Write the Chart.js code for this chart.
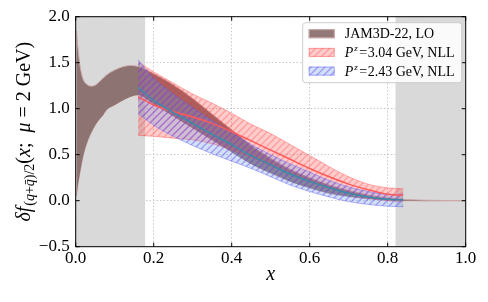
<!DOCTYPE html>
<html>
<head>
<meta charset="utf-8">
<script src="https://cdn.jsdelivr.net/npm/chart.js@4.4.1/dist/chart.umd.min.js"></script>
<style>
  html, body { margin: 0; padding: 0; background: #fff; }
  #wrap { width: 488px; height: 302px; }
</style>
</head>
<body>
<div id="wrap"><canvas id="chart"></canvas></div>
<script>
// JAM3D-22 LO band
const jamX  = [0.002, 0.005, 0.01, 0.015, 0.02, 0.03, 0.04, 0.05, 0.06, 0.07, 0.08, 0.1, 0.12, 0.14, 0.16,
               0.2, 0.25, 0.3, 0.35, 0.4, 0.45, 0.5, 0.55, 0.6, 0.65, 0.7, 0.75, 0.8, 0.85, 0.9, 0.95, 1.0];
const jamHi = [1.85, 1.70, 1.50, 1.38, 1.31, 1.26, 1.245, 1.255, 1.29, 1.33, 1.37, 1.42, 1.455, 1.47, 1.46,
               1.38, 1.26, 1.11, 0.94, 0.77, 0.60, 0.46, 0.34, 0.25, 0.17, 0.11, 0.06, 0.03, 0.012, 0.005, 0.002, 0];
const jamLo = [0.05, 0.15, 0.28, 0.40, 0.50, 0.64, 0.74, 0.82, 0.88, 0.93, 0.99, 1.04, 1.09, 1.13, 1.15,
               1.05, 0.92, 0.79, 0.66, 0.53, 0.40, 0.30, 0.21, 0.14, 0.08, 0.045, 0.02, 0.005, 0, -0.003, -0.002, 0];

// lattice bands, Pz = 3.04 GeV and 2.43 GeV
const pzX     = [0.16, 0.2, 0.25, 0.3, 0.35, 0.4, 0.45, 0.5, 0.55, 0.6, 0.65, 0.7, 0.75, 0.8, 0.84];
const p304Mid = [1.13, 1.04, 0.97, 0.91, 0.84, 0.75, 0.65, 0.55, 0.45, 0.35, 0.26, 0.18, 0.12, 0.07, 0.06];
const p304Hi  = [1.51, 1.40, 1.28, 1.16, 1.06, 0.95, 0.83, 0.73, 0.61, 0.49, 0.37, 0.26, 0.18, 0.14, 0.13];
const p304Lo  = [0.71, 0.70, 0.68, 0.66, 0.62, 0.55, 0.47, 0.38, 0.29, 0.21, 0.14, 0.08, 0.03, 0.0, -0.01];
const p243Mid = [1.23, 1.09, 0.96, 0.84, 0.72, 0.61, 0.49, 0.39, 0.29, 0.21, 0.14, 0.08, 0.04, 0.015, 0.01];
const p243Hi  = [1.53, 1.33, 1.16, 1.01, 0.87, 0.74, 0.61, 0.50, 0.40, 0.31, 0.22, 0.15, 0.10, 0.07, 0.07];
const p243Lo  = [0.95, 0.82, 0.70, 0.60, 0.51, 0.43, 0.35, 0.26, 0.17, 0.10, 0.04, -0.01, -0.04, -0.06, -0.065];

// grey excluded regions in x
const shadeRanges = [[0, 0.178], [0.82, 1.0]];

const legendLabels = ['JAM3D-22, LO', '3.04 GeV, NLL', '2.43 GeV, NLL'];

const SERIF = '"Liberation Serif", "DejaVu Serif", serif';

function hatch(bg, line) {
  const s = 7;
  const c = document.createElement('canvas');
  c.width = s; c.height = s;
  const g = c.getContext('2d');
  g.fillStyle = bg;
  g.fillRect(0, 0, s, s);
  g.strokeStyle = line;
  g.lineWidth = 1.4;
  g.beginPath();
  g.moveTo(0, s); g.lineTo(s, 0);
  g.moveTo(-1, 1); g.lineTo(1, -1);
  g.moveTo(s - 1, s + 1); g.lineTo(s + 1, s - 1);
  g.stroke();
  return g.createPattern(c, 'repeat');
}

const jamFill = 'rgba(128, 96, 96, 0.85)';
const jamEdge = 'rgba(205, 170, 170, 1)';
const redHatch = hatch('rgba(255, 0, 0, 0.2)', 'rgba(255, 50, 50, 0.3)');
const redEdge = 'rgba(255, 70, 70, 0.4)';
const blueHatch = hatch('rgba(100, 160, 230, 0.3)', 'rgba(110, 50, 240, 0.42)');
const blueEdge = 'rgba(90, 90, 255, 0.45)';

const pts = (xs, ys) => xs.map((x, i) => ({ x, y: ys[i] }));

function drawParts(ctx, parts, x, y, center) {
  let w = 0;
  parts.forEach(p => { ctx.font = p.f; w += ctx.measureText(p.t).width + (p.gap || 0); });
  let cx = center ? x - w / 2 : x;
  parts.forEach(p => {
    ctx.font = p.f;
    ctx.fillText(p.t, cx, y + (p.dy || 0));
    cx += ctx.measureText(p.t).width + (p.gap || 0);
  });
}

const decor = {
  id: 'decor',
  beforeDatasetsDraw(chart) {
    const { ctx, chartArea: a, scales: { x } } = chart;
    ctx.save();
    ctx.fillStyle = '#d9d9d9';
    shadeRanges.forEach(([x0, x1]) => {
      const p0 = x.getPixelForValue(x0), p1 = x.getPixelForValue(x1);
      ctx.fillRect(p0, a.top, p1 - p0, a.bottom - a.top);
    });
    ctx.restore();
  },
  afterDatasetsDraw(chart) {
    const { ctx, chartArea: a, scales: { x, y } } = chart;
    ctx.save();
    // frame
    ctx.strokeStyle = '#000';
    ctx.lineWidth = 1;
    ctx.strokeRect(a.left, a.top, a.right - a.left, a.bottom - a.top);
    // inward ticks on all sides
    const L = 4;
    ctx.beginPath();
    x.ticks.forEach(t => {
      const px = x.getPixelForValue(t.value);
      ctx.moveTo(px, a.bottom); ctx.lineTo(px, a.bottom - L);
      ctx.moveTo(px, a.top); ctx.lineTo(px, a.top + L);
    });
    y.ticks.forEach(t => {
      const py = y.getPixelForValue(t.value);
      ctx.moveTo(a.left, py); ctx.lineTo(a.left + L, py);
      ctx.moveTo(a.right, py); ctx.lineTo(a.right - L, py);
    });
    ctx.stroke();

    // legend
    const bx = a.right - 163, by = a.top + 6, bw = 159, bh = 60;
    ctx.fillStyle = 'rgba(255,255,255,0.85)';
    ctx.strokeStyle = '#cccccc';
    ctx.beginPath();
    ctx.roundRect(bx, by, bw, bh, 3);
    ctx.fill(); ctx.stroke();
    const rows = [
      { fill: jamFill, edge: jamEdge },
      { fill: redHatch, edge: redEdge },
      { fill: blueHatch, edge: blueEdge }
    ];
    rows.forEach((r, i) => {
      const cy = by + 11 + i * 18.7;
      ctx.fillStyle = r.fill;
      ctx.fillRect(bx + 6, cy - 4.5, 26, 9);
      ctx.strokeStyle = r.edge;
      ctx.strokeRect(bx + 6.5, cy - 4, 25, 8);
      ctx.fillStyle = '#000';
      ctx.textBaseline = 'alphabetic';
      const base = cy + 4.5;
      const tx = bx + 42;
      if (i === 0) {
        drawParts(ctx, [{ t: legendLabels[0], f: '14px ' + SERIF }], tx, base, false);
      } else {
        drawParts(ctx, [
          { t: 'P', f: 'italic 14px ' + SERIF, gap: 1 },
          { t: 'z', f: 'italic 9px ' + SERIF, dy: -6, gap: 1.5 },
          { t: '=', f: '14px ' + SERIF, gap: 0.5 },
          { t: legendLabels[i], f: '14px ' + SERIF }
        ], tx, base, false);
      }
    });

    // x title
    ctx.fillStyle = '#000';
    ctx.textBaseline = 'alphabetic';
    ctx.textAlign = 'left';
    drawParts(ctx, [{ t: 'x', f: 'italic 20px ' + SERIF }], (a.left + a.right) / 2, 280, true);

    // y title, rotated
    ctx.translate(30, (a.top + a.bottom) / 2);
    ctx.rotate(-Math.PI / 2);
    drawParts(ctx, [
      { t: 'δ', f: 'italic 20px ' + SERIF },
      { t: 'f', f: 'italic 20px ' + SERIF, gap: 1 },
      { t: '(', f: '14px ' + SERIF, dy: 4 },
      { t: 'q', f: 'italic 14px ' + SERIF, dy: 4 },
      { t: '+', f: '14px ' + SERIF, dy: 4 },
      { t: 'q\u0304', f: 'italic 14px ' + SERIF, dy: 4 },
      { t: ')/2', f: '14px ' + SERIF, dy: 4 },
      { t: '(', f: '20px ' + SERIF },
      { t: 'x', f: 'italic 20px ' + SERIF },
      { t: ';  ', f: '20px ' + SERIF },
      { t: 'μ', f: 'italic 20px ' + SERIF },
      { t: ' = 2 GeV)', f: '20px ' + SERIF }
    ], 0, 0, true);
    ctx.restore();
  }
};

const fmt = v => (v < 0 ? '\u2212' : '') + Math.abs(v).toFixed(1);

new Chart(document.getElementById('chart'), {
  type: 'line',
  data: {
    datasets: [
      { label: 'p243Mid', data: pts(pzX, p243Mid), borderColor: 'rgb(55, 140, 172)', borderWidth: 1.5, fill: false },
      { label: 'p304Mid', data: pts(pzX, p304Mid), borderColor: 'rgb(255, 90, 90)', borderWidth: 1.5, fill: false },
      { label: 'p243Hi', data: pts(pzX, p243Hi), borderColor: blueEdge, borderWidth: 1, fill: '+1', backgroundColor: blueHatch },
      { label: 'p243Lo', data: pts(pzX, p243Lo), borderColor: blueEdge, borderWidth: 1, fill: false },
      { label: 'p304Hi', data: pts(pzX, p304Hi), borderColor: redEdge, borderWidth: 1, fill: '+1', backgroundColor: redHatch },
      { label: 'p304Lo', data: pts(pzX, p304Lo), borderColor: redEdge, borderWidth: 1, fill: false },
      { label: 'jamHi', data: pts(jamX, jamHi), borderColor: jamEdge, borderWidth: 1, fill: '+1', backgroundColor: jamFill },
      { label: 'jamLo', data: pts(jamX, jamLo), borderColor: jamEdge, borderWidth: 1, fill: false }
    ]
  },
  options: {
    responsive: true,
    maintainAspectRatio: false,
    animation: false,
    devicePixelRatio: 1,
    layout: { padding: { top: 16.7, right: 22.3, left: 0, bottom: 0 } },
    elements: { point: { radius: 0 }, line: { cubicInterpolationMode: 'monotone' } },
    plugins: { legend: { display: false }, tooltip: { enabled: false } },
    scales: {
      x: {
        type: 'linear', min: 0, max: 1,
        afterFit: s => { s.height = 55.3; },
        ticks: { stepSize: 0.2, padding: 2, color: '#000', font: { family: SERIF, size: 17 }, callback: fmt, maxRotation: 0 },
        grid: { color: '#c8c8c8', drawTicks: false, tickLength: 0 },
        border: { display: false, dash: [1.5, 2] }
      },
      y: {
        type: 'linear', min: -0.5, max: 2.0,
        afterFit: s => { s.width = 75.7; },
        ticks: { stepSize: 0.5, padding: 6, color: '#000', font: { family: SERIF, size: 17 }, callback: fmt },
        grid: { color: '#c8c8c8', drawTicks: false, tickLength: 0 },
        border: { display: false, dash: [1.5, 2] }
      }
    }
  },
  plugins: [decor]
});
</script>
</body>
</html>
